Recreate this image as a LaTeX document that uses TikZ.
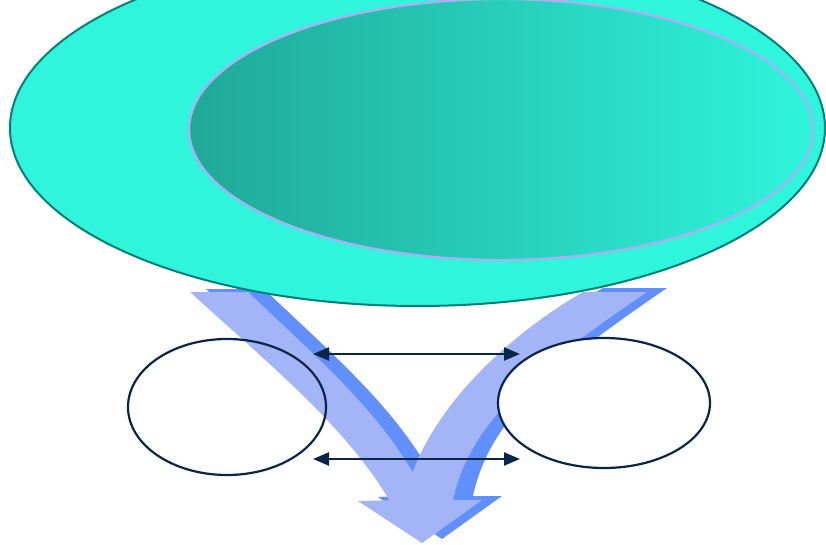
\documentclass[tikz,border=0pt]{standalone}
\usepackage{xcolor}
\definecolor{cAqua}{HTML}{2EF5DC}
\definecolor{cTeal}{HTML}{00807A}
\definecolor{cDeep}{HTML}{20A898}
\definecolor{cLilac}{HTML}{A8B2F2}
\definecolor{cNavy}{HTML}{0A2647}
\definecolor{cArmLt}{HTML}{A3B4F7}
\definecolor{cArmDk}{HTML}{6190FC}
\usepackage{tikz}
\usetikzlibrary{positioning,arrows.meta,shapes.geometric}
\tikzset{
  node-outer/.style={ellipse,draw=cTeal,line width=2pt,fill=cAqua,
    inner sep=0pt,minimum width=815pt,minimum height=356pt},
  node-inner/.style={ellipse,draw=cLilac,line width=2.4pt,
    left color=cDeep,right color=cAqua,inner sep=0pt,
    minimum width=624pt,minimum height=261pt},
  node-small/.style={ellipse,draw=cNavy,line width=2.2pt,inner sep=0pt},
  arm-light/.style={fill=cArmLt},
  arm-dark/.style={fill=cArmDk},
  arrow-both/.style={{Triangle[length=16pt,width=13pt]}-{Triangle[length=16pt,width=13pt]},
    line width=2.4pt,draw=cNavy},
}
% the two arms of the big arrow, in picture pixels
\newcommand{\armLeft}{(190,292) -- (248,292)
  .. controls (330,370) and (390,420) .. (430,505)
  -- (392,505)
  .. controls (350,430) and (270,365) .. (190,292) -- cycle}
\newcommand{\armRight}{(583,292) -- (647,292)
  .. controls (540,365) and (470,420) .. (453,500)
  -- (482,500) -- (422,543) -- (358,501) -- (405,500)
  .. controls (420,420) and (500,340) .. (583,292) -- cycle}

\begin{document}
\begin{tikzpicture}[x=1pt,y=-1pt]
  \useasboundingbox (0,0) rectangle (826,545);
  \clip (0,0) rectangle (826,545);
  % big arrow with its darker side
  \fill[arm-dark,shift={(20,-4)}] \armRight;
  \fill[arm-dark,shift={(16,-3)}] \armLeft;
  \fill[arm-light] \armLeft;
  \fill[arm-light] \armRight;
  % ellipses
  \node[node-outer] (outer) at (417.5,128) {};
  \node[node-inner] (inner) at (501,129.5) {};
  \node[node-small,minimum width=198pt,minimum height=136pt] (left) at (227,407) {};
  \node[node-small,fill=white,minimum width=212pt,minimum height=130pt] (right) at (604,403) {};
  % links between the two small ellipses
  \coordinate (l1) at (313,354);
  \coordinate (r1) at (520,354);
  \coordinate (l2) at (313,459);
  \coordinate (r2) at (520,459);
  \draw[arrow-both] (l1) -- (r1);
  \draw[arrow-both] (l2) -- (r2);
\end{tikzpicture}
\end{document}
